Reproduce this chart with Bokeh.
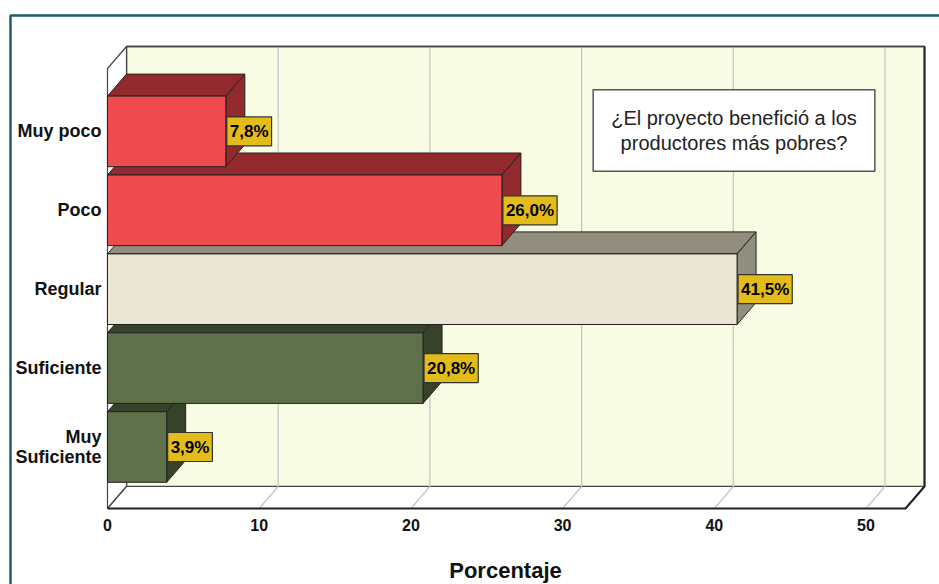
from bokeh.plotting import figure
from bokeh.models import ColumnDataSource
from bokeh.core.properties import value
from bokeh.embed import file_html
from bokeh.resources import INLINE

# ---- data ----
categories = ["Muy\nSuficiente", "Suficiente", "Regular", "Poco", "Muy poco"]  # bottom -> top
percentages = [3.9, 20.8, 41.5, 26.0, 7.8]
front_colors = ["#5e714a", "#5e714a", "#ebe5d3", "#ee4b4f", "#ee4b4f"]
shade_colors = ["#374329", "#374329", "#918e7e", "#922a2d", "#922a2d"]
x_ticks = [0, 10, 20, 30, 40, 50]
x_title = "Porcentaje"
box_title = "¿El proyecto benefició a los\nproductores más pobres?"

# ---- layout (screen geometry of the 3D frame) ----
W, H = 939, 584
OFF = 0
X0PX, XSC = 107.0, 15.17      # pixel of x=0, px per unit
Y0PX, YSC = 446.5, 78.9       # pixel of first category, px per category
def px2x(px): return (px - X0PX) / XSC
def px2y(py): return (Y0PX - py) / YSC

DX = 19 / XSC
DY = 22 / YSC
XMAX = px2x(905)
YB, YT = px2y(508), px2y(68)
HALF = 35.3 / YSC

p = figure(width=W, height=H, output_backend="svg", toolbar_location=None,
           x_range=(px2x(OFF), px2x(OFF + W)), y_range=(px2y(OFF + H), px2y(OFF)),
           min_border=0, outline_line_color=None, background_fill_color="white",
           border_fill_color="white")
p.xaxis.visible = False
p.yaxis.visible = False
p.xgrid.visible = False
p.ygrid.visible = False

FONT = value("Liberation Sans")

# outer teal frame
p.line([px2x(10), px2x(10), px2x(960)], [px2y(620), px2y(15), px2y(15)],
       line_color="#1d5a6e", line_width=2.5)

# back wall
p.patch([DX, XMAX + DX, XMAX + DX, DX], [YB + DY, YB + DY, YT + DY, YT + DY],
        fill_color="#f9fce4", line_color="#444444", line_width=1.5)
# left wall
p.patch([0, DX, DX, 0], [YB, YB + DY, YT + DY, YT],
        fill_color="white", line_color="#444444", line_width=1.2)
# floor
p.patch([0, XMAX, XMAX + DX, DX], [YB, YB, YB + DY, YB + DY],
        fill_color="white", line_color="#444444", line_width=1.2)

# gridlines on back wall and floor
gx = [t for t in x_ticks if t > 0]
p.multi_line([[t + DX, t + DX] for t in gx], [[YB + DY, YT + DY] for t in gx],
             line_color="#c4c4c4", line_width=1.2)
p.multi_line([[t, t + DX] for t in gx], [[YB, YB + DY] for t in gx],
             line_color="#c4c4c4", line_width=1.2)

# strong edges
p.line([0, XMAX, XMAX + DX, XMAX + DX], [YB, YB, YB + DY, YT + DY],
       line_color="#222222", line_width=2)
p.line([DX, XMAX + DX], [YT + DY, YT + DY], line_color="#444444", line_width=1.5)

# 3D bars
xs, ys, fills = [], [], []
for k, v in enumerate(percentages):
    yb, yt = k - HALF, k + HALF
    # top face
    xs.append([0, DX, v + DX, v]); ys.append([yt, yt + DY, yt + DY, yt]); fills.append(shade_colors[k])
    # side face
    xs.append([v, v + DX, v + DX, v]); ys.append([yb, yb + DY, yt + DY, yt]); fills.append(shade_colors[k])
    # front face
    xs.append([0, v, v, 0]); ys.append([yb, yb, yt, yt]); fills.append(front_colors[k])
p.patches(xs, ys, fill_color=fills, line_color="#222222", line_width=1)

# value labels
lab_src = ColumnDataSource(dict(
    x=percentages, y=list(range(len(percentages))),
    t=[f"{v:.1f}".replace(".", ",") + "%" for v in percentages]))
p.text(x="x", y="y", text="t", source=lab_src, text_font=FONT, text_font_style="bold",
       text_font_size="17px", text_color="black", text_align="left", text_baseline="middle",
       background_fill_color="#e4bc18", border_line_color="#333333", border_line_width=1.2,
       padding=dict(left=3, right=3, top=5, bottom=5), x_offset=1)

# category labels
p.text(x=[px2x(101)] * len(categories), y=list(range(len(categories))), text=categories,
       text_font=FONT, text_font_style="bold", text_font_size="18px", text_color="#111111",
       text_align="right", text_baseline="middle", text_line_height=1.0)

# x tick labels
p.text(x=x_ticks, y=[px2y(524)] * len(x_ticks), text=[str(t) for t in x_ticks],
       text_font=FONT, text_font_style="bold", text_font_size="16px", text_color="#111111",
       text_align="center", text_baseline="middle")

# x axis title
p.text(x=[px2x(505)], y=[px2y(570)], text=[x_title], text_font=FONT, text_font_style="bold",
       text_font_size="22px", text_color="#111111", text_align="center", text_baseline="middle")

# boxed chart title
p.text(x=[px2x(733.5)], y=[px2y(130)], text=[box_title], text_font=FONT,
       text_font_size="20px", text_color="#222222", text_align="center", text_baseline="middle",
       text_line_height=1.15, background_fill_color="white", border_line_color="#555555",
       border_line_width=1.5, padding=dict(left=18, right=18, top=17, bottom=17))

open("out.html", "w").write(file_html(p, INLINE))
